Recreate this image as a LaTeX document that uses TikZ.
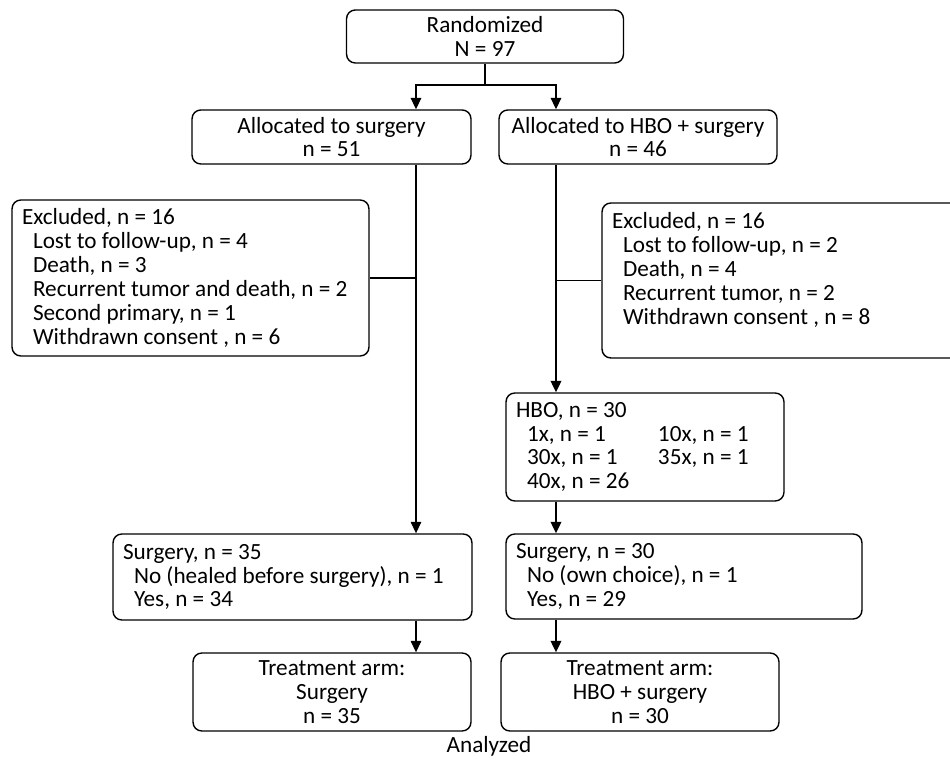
\documentclass[tikz,border=0pt]{standalone}
\usepackage{fontspec}
\setmainfont{Carlito}
\usetikzlibrary{arrows.meta}
\newcommand{\flowind}{\hspace*{0.22cm}}

\begin{document}
\begin{tikzpicture}[x=0.02cm, y=-0.02cm,
  font=\fontsize{13.2}{13.6}\selectfont,
  flowbox/.style={draw, line width=0.8pt, rounded corners=5pt, inner sep=0pt, align=center},
  flowlist/.style={flowbox, align=flush left, inner xsep=0.2cm},
  flowarrow/.style={-{Triangle[width=6pt,length=6.5pt]}}]
  \clip (0,0) rectangle (950,766);

  \node[flowbox, minimum width=5.54cm, minimum height=1.06cm] (rand) at (485,36.5) {Randomized\\N = 97};
  \node[flowbox, minimum width=5.58cm, minimum height=1.08cm] (allocS) at (331.5,137) {Allocated to surgery\\n = 51};
  \node[flowbox, minimum width=5.56cm, minimum height=1.08cm] (allocH) at (638,137) {Allocated to HBO + surgery\\n = 46};

  \node[flowlist, text width=6.74cm, minimum height=3.12cm] (exclL) at (190.5,278) {Excluded, n = 16\\
    \flowind Lost to follow-up, n = 4\\
    \flowind Death, n = 3\\
    \flowind Recurrent tumor and death, n = 2\\
    \flowind Second primary, n = 1\\
    \flowind Withdrawn consent , n = 6};
  \node[flowlist, text width=6.76cm, minimum height=3.1cm] (exclR) at (781,280.5) {Excluded, n = 16\\
    \flowind Lost to follow-up, n = 2\\
    \flowind Death, n = 4\\
    \flowind Recurrent tumor, n = 2\\
    \flowind Withdrawn consent , n = 8\\ ~};

  \node[flowlist, text width=5.16cm, minimum height=2.16cm] (hbo) at (645,447) {HBO, n = 30\\
    \flowind\makebox[2.62cm][l]{1x, n = 1}10x, n = 1\\
    \flowind\makebox[2.62cm][l]{30x, n = 1}35x, n = 1\\
    \flowind 40x, n = 26};

  \node[flowlist, text width=6.78cm, minimum height=1.72cm] (surgL) at (292.5,577) {Surgery, n = 35\\
    \flowind No (healed before surgery), n = 1\\
    \flowind Yes, n = 34};
  \node[flowlist, text width=6.72cm, minimum height=1.7cm] (surgR) at (684,576.5) {Surgery, n = 30\\
    \flowind No (own choice), n = 1\\
    \flowind Yes, n = 29};

  \node[flowbox, minimum width=5.56cm, minimum height=1.56cm] (armL) at (332,692) {Treatment arm:\\Surgery\\n = 35};
  \node[flowbox, minimum width=5.56cm, minimum height=1.56cm] (armR) at (640,692) {Treatment arm:\\HBO + surgery\\n = 30};
  \node (analyzed) at (489,746) {Analyzed};

  \coordinate (split) at (485,85);
  \coordinate (trunkL) at (416,85);
  \coordinate (trunkR) at (556,85);
  \draw[line width=0.8pt] (rand) -- (split);
  \draw[flowarrow, line width=0.8pt] (split) -- (trunkL) -- (trunkL |- allocS.north);
  \draw[flowarrow, line width=0.8pt] (split) -- (trunkR) -- (trunkR |- allocH.north);

  \draw[flowarrow, line width=0.6pt] (trunkL |- allocS.south) -- (trunkL |- surgL.north);
  \draw[line width=0.6pt] (exclL.east) -- (exclL.east -| trunkL);
  \draw[flowarrow, line width=0.6pt] (trunkL |- surgL.south) -- (trunkL |- armL.north);

  \draw[flowarrow, line width=1pt] (trunkR |- allocH.south) -- (trunkR |- hbo.north);
  \draw[line width=1pt] (exclR.west) -- (exclR.west -| trunkR);
  \draw[flowarrow, line width=1pt] (trunkR |- hbo.south) -- (trunkR |- surgR.north);
  \draw[flowarrow, line width=1pt] (trunkR |- surgR.south) -- (trunkR |- armR.north);
\end{tikzpicture}
\end{document}
